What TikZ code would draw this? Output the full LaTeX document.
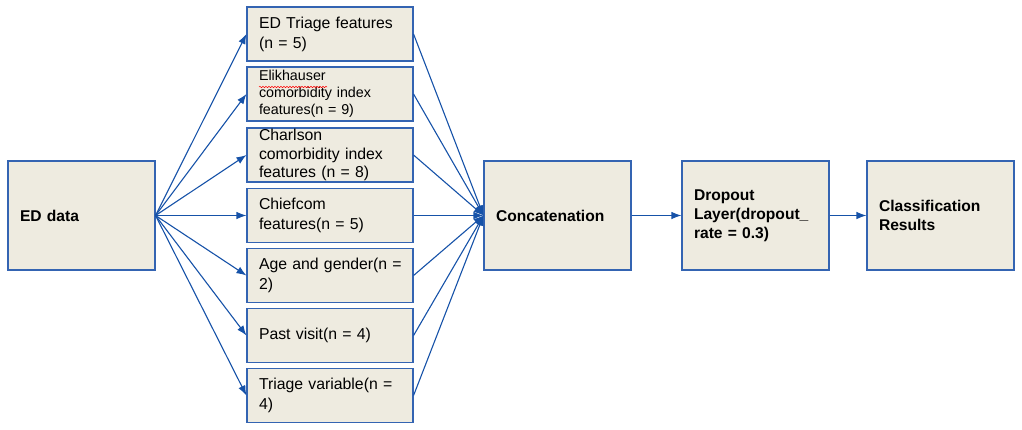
\documentclass[tikz,border=0pt]{standalone}
\usepackage{fontspec}
\setmainfont{Liberation Sans}
\usetikzlibrary{arrows.meta,decorations.pathmorphing}
\definecolor{boxfill}{RGB}{238,235,224}
\definecolor{boxline}{RGB}{52,100,178}
\definecolor{arrline}{RGB}{22,82,168}
\begin{document}
\begin{tikzpicture}[x=1pt,y=-1pt,
  mbox/.style={draw=boxline,fill=boxfill,line width=1.1pt,minimum width=166pt,minimum height=54pt,text width=142pt,inner xsep=12pt,inner ysep=0pt,align=left,font=\fontsize{15.8}{20}\selectfont},
  bbox/.style={draw=boxline,fill=boxfill,line width=1.1pt,minimum width=147pt,minimum height=109pt,text width=123pt,inner xsep=12pt,inner ysep=0pt,align=left,font=\fontsize{15.6}{19}\selectfont\bfseries},
  conn/.style={draw=arrline,line width=1.1pt,-{Latex[length=10pt,width=7.5pt]}}]
\useasboundingbox (0,0) rectangle (1022,429);
\node[bbox] (ed) at (81.5,215.5) {ED data};
\node[mbox] (m1) at (330,34) {ED Triage features\\(n = 5)};
\node[mbox,font=\fontsize{14.3}{17}\selectfont] (m2) at (330,94) {Elikhauser\\comorbidity index\\features(n = 9)};
\node[mbox,font=\fontsize{15.8}{18.5}\selectfont] (m3) at (330,155) {Charlson\\comorbidity index\\features (n = 8)};
\node[mbox] (m4) at (330,215.5) {Chiefcom\\features(n = 5)};
\node[mbox] (m5) at (330,275.5) {\mbox{Age and gender(n =}\\2)};
\node[mbox] (m6) at (330,335.5) {Past visit(n = 4)};
\node[mbox] (m7) at (330,395.5) {\mbox{Triage variable(n =}\\4)};
\node[bbox] (cc) at (557.5,215.5) {Concatenation};
\node[bbox] (dr) at (755.5,215.5) {Dropout\\Layer(dropout\_\\rate = 0.3)};
\node[bbox] (cl) at (940.5,215.5) {Classification\\Results};
\draw[red,line width=0.5pt,decorate,decoration={snake,amplitude=0.7pt,segment length=3pt}] (259,87) -- (327,87);
\foreach \m in {m1,m2,m3,m4,m5,m6,m7}{
  \draw[conn] (ed.east) -- (\m.west);
  \draw[conn] (\m.east) -- (cc.west);
}
\draw[conn] (cc) -- (dr);
\draw[conn] (dr) -- (cl);
\end{tikzpicture}
\end{document}
